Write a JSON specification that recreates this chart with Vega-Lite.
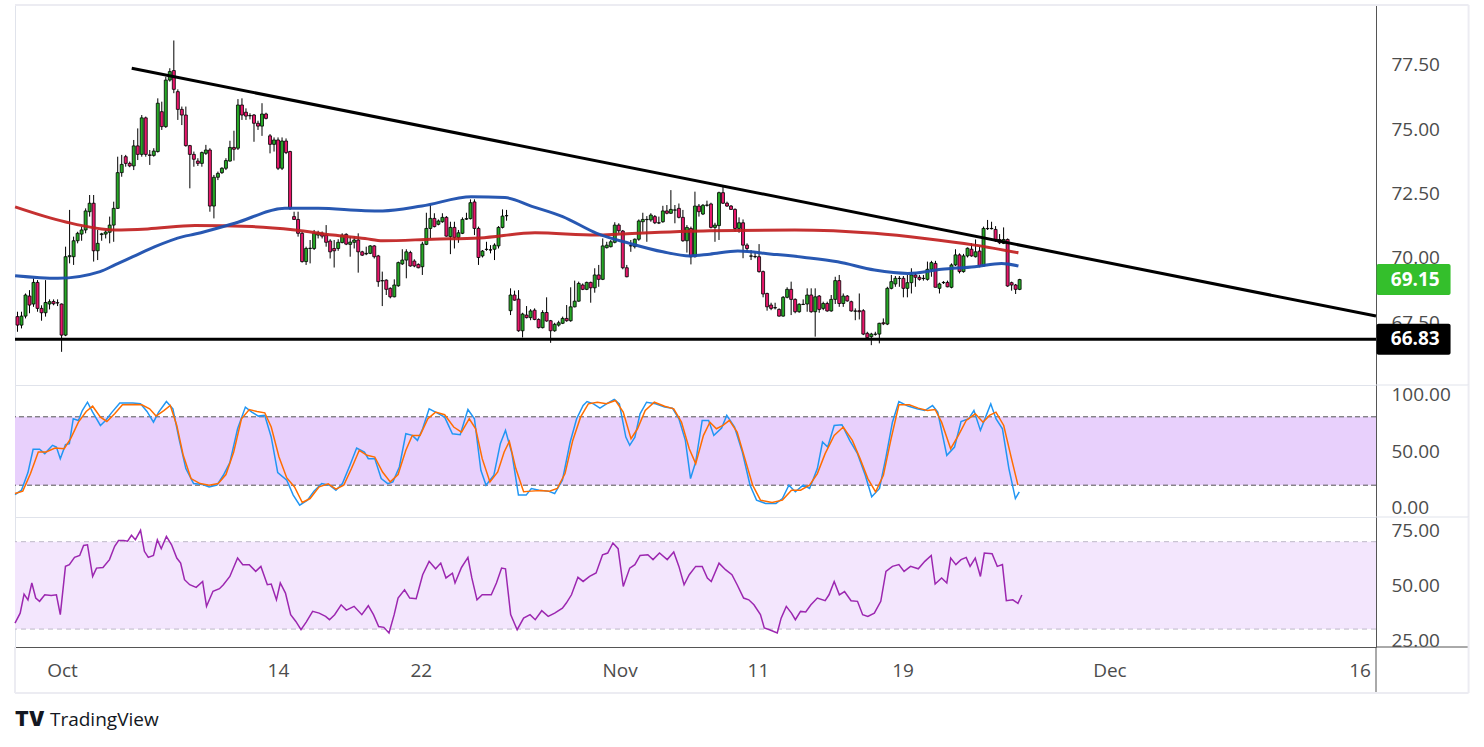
{
  "$schema": "https://vega.github.io/schema/vega-lite/v6.json",
  "background": "white",
  "padding": {"left": 8, "top": 3, "right": 0, "bottom": 0},
  "bounds": "flush",
  "spacing": 0,
  "config": {
    "view": {"stroke": "#e0e3eb", "strokeWidth": 1},
    "scale": {"continuousPadding": 0},
    "axis": {
      "labelFont": "Open Sans", "labelFontSize": 19, "labelColor": "#4c4c4c",
      "ticks": false, "grid": false, "domainColor": "#555555", "labelPadding": 15,
      "labelOverlap": false, "labelFlush": false, "labelBound": false, "title": null, "zindex": 0
    }
  },
  "datasets": {
    "candles": [
      {"i":0,"o":67.71,"h":67.90,"l":67.12,"c":67.38},{"i":1,"o":67.38,"h":67.90,"l":67.25,"c":67.73},
      {"i":2,"o":67.73,"h":68.61,"l":67.64,"c":68.55},{"i":3,"o":68.51,"h":68.74,"l":67.84,"c":68.16},
      {"i":4,"o":68.20,"h":69.20,"l":68.09,"c":69.04},{"i":5,"o":69.04,"h":69.13,"l":67.90,"c":68.03},
      {"i":6,"o":68.03,"h":68.15,"l":67.55,"c":67.86},{"i":7,"o":67.86,"h":69.13,"l":67.71,"c":68.26},
      {"i":8,"o":68.20,"h":68.38,"l":67.99,"c":68.29},{"i":9,"o":68.30,"h":68.38,"l":68.15,"c":68.21},
      {"i":10,"o":68.25,"h":68.38,"l":68.12,"c":68.24},{"i":11,"o":68.20,"h":68.22,"l":66.34,"c":66.99},
      {"i":12,"o":66.99,"h":70.43,"l":66.95,"c":70.04},{"i":13,"o":70.04,"h":71.86,"l":69.78,"c":70.08},
      {"i":14,"o":70.04,"h":70.82,"l":69.72,"c":70.66},{"i":15,"o":70.66,"h":71.01,"l":70.56,"c":70.95},
      {"i":16,"o":70.92,"h":71.21,"l":70.66,"c":71.08},{"i":17,"o":71.08,"h":71.92,"l":70.95,"c":71.82},
      {"i":18,"o":71.79,"h":72.44,"l":71.60,"c":72.12},{"i":19,"o":72.12,"h":72.44,"l":69.85,"c":70.27},
      {"i":20,"o":70.27,"h":71.08,"l":69.91,"c":70.56},{"i":21,"o":70.90,"h":70.97,"l":70.66,"c":70.93},
      {"i":22,"o":70.92,"h":71.08,"l":70.75,"c":71.00},{"i":23,"o":70.99,"h":71.60,"l":70.56,"c":71.27},
      {"i":24,"o":71.27,"h":72.18,"l":70.62,"c":71.92},{"i":25,"o":71.92,"h":73.93,"l":71.90,"c":73.31},
      {"i":26,"o":73.31,"h":74.00,"l":73.15,"c":73.63},{"i":27,"o":73.93,"h":74.00,"l":73.54,"c":73.67},
      {"i":28,"o":73.67,"h":73.74,"l":73.52,"c":73.57},{"i":29,"o":73.57,"h":74.58,"l":73.41,"c":74.35},
      {"i":30,"o":74.35,"h":75.03,"l":73.80,"c":74.02},{"i":31,"o":74.02,"h":75.55,"l":73.93,"c":75.44},
      {"i":32,"o":75.44,"h":75.49,"l":73.93,"c":74.02},{"i":33,"o":74.00,"h":74.19,"l":73.61,"c":73.98},
      {"i":34,"o":73.98,"h":74.26,"l":73.93,"c":74.15},{"i":35,"o":74.13,"h":76.20,"l":74.09,"c":76.01},
      {"i":36,"o":75.68,"h":76.07,"l":74.97,"c":75.10},{"i":37,"o":75.10,"h":77.04,"l":75.05,"c":76.91},
      {"i":38,"o":76.91,"h":77.37,"l":76.85,"c":77.24},{"i":39,"o":77.28,"h":78.45,"l":76.40,"c":76.55},
      {"i":40,"o":76.46,"h":76.55,"l":75.36,"c":75.77},{"i":41,"o":75.77,"h":75.88,"l":75.16,"c":75.55},
      {"i":42,"o":75.55,"h":75.88,"l":74.32,"c":74.36},{"i":43,"o":74.36,"h":74.39,"l":72.70,"c":74.02},
      {"i":44,"o":74.02,"h":74.13,"l":73.54,"c":73.83},{"i":45,"o":73.76,"h":73.87,"l":73.57,"c":73.67},
      {"i":46,"o":73.67,"h":74.13,"l":73.54,"c":74.09},{"i":47,"o":74.06,"h":74.39,"l":74.00,"c":74.19},
      {"i":48,"o":74.19,"h":74.26,"l":71.79,"c":72.01},{"i":49,"o":72.01,"h":73.22,"l":71.53,"c":73.13},
      {"i":50,"o":73.13,"h":73.35,"l":73.02,"c":73.28},{"i":51,"o":73.31,"h":73.52,"l":73.26,"c":73.48},
      {"i":52,"o":73.48,"h":73.87,"l":73.41,"c":73.78},{"i":53,"o":73.76,"h":74.55,"l":73.74,"c":74.29},
      {"i":54,"o":74.29,"h":74.94,"l":73.78,"c":74.22},{"i":55,"o":74.26,"h":76.17,"l":74.19,"c":75.94},
      {"i":56,"o":75.94,"h":76.20,"l":75.36,"c":75.55},{"i":57,"o":75.66,"h":75.81,"l":75.36,"c":75.51},
      {"i":58,"o":75.52,"h":75.62,"l":75.38,"c":75.53},{"i":59,"o":75.55,"h":75.59,"l":74.51,"c":75.23},
      {"i":60,"o":75.23,"h":75.33,"l":74.97,"c":75.12},{"i":61,"o":75.12,"h":76.01,"l":74.74,"c":75.59},
      {"i":62,"o":75.59,"h":75.64,"l":75.38,"c":75.42},{"i":63,"o":74.74,"h":74.81,"l":74.06,"c":74.41},
      {"i":64,"o":74.41,"h":74.68,"l":74.13,"c":74.58},{"i":65,"o":74.58,"h":74.68,"l":73.41,"c":73.48},
      {"i":66,"o":73.48,"h":74.68,"l":73.41,"c":74.54},{"i":67,"o":74.54,"h":74.64,"l":74.03,"c":74.09},
      {"i":68,"o":74.13,"h":74.16,"l":71.86,"c":71.92},{"i":69,"o":71.60,"h":71.79,"l":71.47,"c":71.49},
      {"i":70,"o":71.49,"h":71.79,"l":70.82,"c":70.95},{"i":71,"o":70.95,"h":71.02,"l":69.81,"c":69.85},
      {"i":72,"o":69.85,"h":70.43,"l":69.72,"c":70.36},{"i":73,"o":70.36,"h":70.69,"l":69.78,"c":70.37},
      {"i":74,"o":70.36,"h":71.08,"l":70.30,"c":70.95},{"i":75,"o":70.88,"h":71.05,"l":70.75,"c":70.97},
      {"i":76,"o":70.95,"h":71.02,"l":70.75,"c":70.84},{"i":77,"o":70.88,"h":71.27,"l":70.43,"c":70.60},
      {"i":78,"o":70.65,"h":70.72,"l":69.97,"c":70.23},{"i":79,"o":70.36,"h":70.69,"l":69.62,"c":70.27},
      {"i":80,"o":70.36,"h":70.72,"l":70.27,"c":70.60},{"i":81,"o":70.59,"h":70.95,"l":70.56,"c":70.88},
      {"i":82,"o":70.91,"h":70.95,"l":70.49,"c":70.53},{"i":83,"o":70.52,"h":70.82,"l":70.04,"c":70.61},
      {"i":84,"o":70.60,"h":70.84,"l":70.36,"c":70.69},{"i":85,"o":70.69,"h":70.95,"l":69.42,"c":70.23},
      {"i":86,"o":70.23,"h":70.27,"l":70.07,"c":70.10},{"i":87,"o":70.15,"h":70.43,"l":70.10,"c":70.17},
      {"i":88,"o":70.17,"h":70.49,"l":70.14,"c":70.46},{"i":89,"o":70.46,"h":70.49,"l":69.97,"c":70.04},
      {"i":90,"o":70.07,"h":70.11,"l":68.87,"c":69.07},{"i":91,"o":69.10,"h":69.46,"l":68.12,"c":69.11},
      {"i":92,"o":69.13,"h":69.16,"l":68.55,"c":68.77},{"i":93,"o":68.81,"h":68.85,"l":68.42,"c":68.48},
      {"i":94,"o":68.48,"h":69.16,"l":68.46,"c":68.94},{"i":95,"o":68.91,"h":69.85,"l":68.87,"c":69.81},
      {"i":96,"o":69.76,"h":70.33,"l":69.72,"c":69.91},{"i":97,"o":69.91,"h":70.33,"l":69.20,"c":70.23},
      {"i":98,"o":70.20,"h":70.27,"l":69.65,"c":69.68},{"i":99,"o":69.87,"h":69.94,"l":69.63,"c":69.68},
      {"i":100,"o":69.74,"h":69.78,"l":69.59,"c":69.61},{"i":101,"o":69.65,"h":70.62,"l":69.33,"c":70.53},
      {"i":102,"o":70.52,"h":71.75,"l":70.49,"c":71.14},{"i":103,"o":71.14,"h":72.05,"l":70.75,"c":71.53},
      {"i":104,"o":71.53,"h":71.73,"l":71.18,"c":71.21},{"i":105,"o":71.30,"h":71.49,"l":71.26,"c":71.43},
      {"i":106,"o":71.40,"h":71.73,"l":71.36,"c":71.57},{"i":107,"o":71.57,"h":71.62,"l":70.82,"c":70.84},
      {"i":108,"o":70.82,"h":71.40,"l":70.14,"c":71.18},{"i":109,"o":71.18,"h":71.40,"l":70.36,"c":70.79},
      {"i":110,"o":70.79,"h":71.08,"l":70.58,"c":70.97},{"i":111,"o":70.95,"h":71.57,"l":70.92,"c":71.49},
      {"i":112,"o":71.50,"h":71.75,"l":71.47,"c":71.52},{"i":113,"o":71.52,"h":72.27,"l":71.49,"c":72.14},
      {"i":114,"o":72.17,"h":72.27,"l":70.88,"c":71.14},{"i":115,"o":71.14,"h":71.21,"l":69.72,"c":70.01},
      {"i":116,"o":70.07,"h":70.30,"l":70.01,"c":70.26},{"i":117,"o":70.32,"h":70.62,"l":70.27,"c":70.33},
      {"i":118,"o":70.31,"h":70.49,"l":70.17,"c":70.30},{"i":119,"o":70.33,"h":70.56,"l":69.91,"c":70.49},
      {"i":120,"o":70.46,"h":71.23,"l":70.36,"c":71.18},{"i":121,"o":71.18,"h":71.88,"l":71.14,"c":71.62},
      {"i":122,"o":71.63,"h":71.86,"l":71.44,"c":71.64},{"i":123,"o":67.94,"h":68.81,"l":67.77,"c":68.55},
      {"i":124,"o":68.55,"h":68.72,"l":68.33,"c":68.35},{"i":125,"o":68.39,"h":68.74,"l":67.12,"c":67.16},
      {"i":126,"o":67.16,"h":67.86,"l":66.90,"c":67.81},{"i":127,"o":67.77,"h":68.12,"l":67.64,"c":67.67},
      {"i":128,"o":67.67,"h":68.00,"l":67.57,"c":67.93},{"i":129,"o":67.96,"h":68.03,"l":67.57,"c":67.60},
      {"i":130,"o":67.60,"h":67.64,"l":67.25,"c":67.28},{"i":131,"o":67.28,"h":67.96,"l":67.25,"c":67.87},
      {"i":132,"o":67.87,"h":68.46,"l":67.51,"c":67.54},{"i":133,"o":67.55,"h":67.58,"l":66.69,"c":67.16},
      {"i":134,"o":67.16,"h":67.47,"l":67.12,"c":67.41},{"i":135,"o":67.38,"h":67.55,"l":67.32,"c":67.47},
      {"i":136,"o":67.45,"h":67.71,"l":67.42,"c":67.64},{"i":137,"o":67.64,"h":68.16,"l":67.51,"c":67.55},
      {"i":138,"o":67.55,"h":68.85,"l":67.51,"c":68.09},{"i":139,"o":68.09,"h":69.11,"l":68.07,"c":68.31},
      {"i":140,"o":68.31,"h":69.07,"l":68.29,"c":69.00},{"i":141,"o":68.94,"h":69.00,"l":68.74,"c":68.77},
      {"i":142,"o":68.77,"h":69.07,"l":68.74,"c":69.04},{"i":143,"o":69.04,"h":69.07,"l":68.25,"c":68.83},
      {"i":144,"o":68.83,"h":69.59,"l":68.64,"c":69.33},{"i":145,"o":69.33,"h":69.72,"l":68.87,"c":69.16},
      {"i":146,"o":69.16,"h":70.75,"l":69.13,"c":70.46},{"i":147,"o":70.39,"h":70.62,"l":70.36,"c":70.49},
      {"i":148,"o":70.43,"h":70.69,"l":70.40,"c":70.62},{"i":149,"o":70.60,"h":71.38,"l":70.56,"c":71.27},
      {"i":150,"o":71.27,"h":71.34,"l":70.95,"c":71.05},{"i":151,"o":71.04,"h":71.08,"l":69.55,"c":69.61},
      {"i":152,"o":69.61,"h":69.72,"l":69.24,"c":69.26},{"i":153,"o":70.46,"h":70.69,"l":70.23,"c":70.47},
      {"i":154,"o":70.43,"h":70.75,"l":70.36,"c":70.72},{"i":155,"o":70.72,"h":71.49,"l":70.66,"c":71.43},
      {"i":156,"o":71.40,"h":71.75,"l":71.01,"c":71.49},{"i":157,"o":71.48,"h":71.62,"l":70.62,"c":71.49},
      {"i":158,"o":71.47,"h":71.73,"l":71.40,"c":71.66},{"i":159,"o":71.60,"h":71.66,"l":71.31,"c":71.36},
      {"i":160,"o":71.35,"h":71.60,"l":71.31,"c":71.36},{"i":161,"o":71.40,"h":72.02,"l":71.36,"c":71.82},
      {"i":162,"o":71.82,"h":72.05,"l":71.69,"c":71.73},{"i":163,"o":71.73,"h":72.63,"l":71.70,"c":71.88},
      {"i":164,"o":71.85,"h":72.05,"l":71.34,"c":71.86},{"i":165,"o":71.92,"h":72.11,"l":71.53,"c":71.57},
      {"i":166,"o":71.57,"h":71.86,"l":70.62,"c":70.66},{"i":167,"o":70.66,"h":71.27,"l":70.20,"c":71.18},
      {"i":168,"o":71.14,"h":71.21,"l":69.74,"c":70.04},{"i":169,"o":70.04,"h":72.57,"l":70.01,"c":72.01},
      {"i":170,"o":72.01,"h":72.09,"l":71.60,"c":71.79},{"i":171,"o":71.70,"h":72.09,"l":71.66,"c":72.04},
      {"i":172,"o":72.04,"h":72.22,"l":71.99,"c":72.05},{"i":173,"o":72.09,"h":72.14,"l":71.14,"c":71.18},
      {"i":174,"o":71.18,"h":71.36,"l":70.62,"c":71.27},{"i":175,"o":71.25,"h":72.57,"l":70.69,"c":72.53},
      {"i":176,"o":72.53,"h":72.79,"l":72.09,"c":72.12},{"i":177,"o":72.12,"h":72.18,"l":71.98,"c":72.01},
      {"i":178,"o":72.01,"h":72.05,"l":71.86,"c":71.88},{"i":179,"o":71.88,"h":71.92,"l":71.01,"c":71.14},
      {"i":180,"o":71.14,"h":71.57,"l":70.97,"c":71.36},{"i":181,"o":71.36,"h":71.49,"l":69.98,"c":70.49},
      {"i":182,"o":70.49,"h":70.56,"l":70.23,"c":70.36},{"i":183,"o":70.06,"h":70.30,"l":69.91,"c":70.07},
      {"i":184,"o":70.05,"h":70.23,"l":69.98,"c":70.04},{"i":185,"o":70.04,"h":70.53,"l":69.42,"c":69.46},
      {"i":186,"o":69.46,"h":69.50,"l":68.46,"c":68.59},{"i":187,"o":68.61,"h":68.64,"l":67.94,"c":68.09},
      {"i":188,"o":68.16,"h":68.25,"l":67.96,"c":68.03},{"i":189,"o":68.05,"h":68.25,"l":67.99,"c":68.06},
      {"i":190,"o":67.99,"h":68.03,"l":67.71,"c":67.73},{"i":191,"o":67.73,"h":68.51,"l":67.71,"c":68.46},
      {"i":192,"o":68.46,"h":68.85,"l":68.42,"c":68.77},{"i":193,"o":68.77,"h":69.07,"l":67.77,"c":68.38},
      {"i":194,"o":68.38,"h":68.42,"l":67.84,"c":67.90},{"i":195,"o":67.90,"h":68.23,"l":67.86,"c":68.19},
      {"i":196,"o":68.18,"h":68.38,"l":68.16,"c":68.19},{"i":197,"o":68.20,"h":68.81,"l":67.90,"c":68.55},
      {"i":198,"o":68.55,"h":68.81,"l":67.86,"c":67.90},{"i":199,"o":67.90,"h":68.81,"l":66.93,"c":68.48},
      {"i":200,"o":68.51,"h":68.55,"l":67.86,"c":67.99},{"i":201,"o":68.03,"h":68.29,"l":67.96,"c":68.22},
      {"i":202,"o":68.22,"h":68.29,"l":67.90,"c":67.93},{"i":203,"o":67.93,"h":68.55,"l":67.90,"c":68.38},
      {"i":204,"o":68.38,"h":69.26,"l":68.20,"c":69.11},{"i":205,"o":69.11,"h":69.33,"l":68.09,"c":68.22},
      {"i":206,"o":68.22,"h":68.61,"l":68.09,"c":68.51},{"i":207,"o":68.51,"h":68.55,"l":68.29,"c":68.32},
      {"i":208,"o":68.29,"h":68.33,"l":67.90,"c":67.93},{"i":209,"o":67.92,"h":68.03,"l":67.57,"c":67.93},
      {"i":210,"o":67.94,"h":68.61,"l":67.60,"c":67.90},{"i":211,"o":67.94,"h":68.00,"l":66.99,"c":67.03},
      {"i":212,"o":67.06,"h":67.12,"l":66.86,"c":66.89},{"i":213,"o":66.93,"h":67.08,"l":66.60,"c":67.03},
      {"i":214,"o":67.02,"h":67.12,"l":66.97,"c":67.03},{"i":215,"o":67.03,"h":67.47,"l":66.67,"c":67.45},
      {"i":216,"o":67.47,"h":67.64,"l":67.38,"c":67.43},{"i":217,"o":67.42,"h":68.87,"l":67.38,"c":68.81},
      {"i":218,"o":68.81,"h":69.33,"l":68.77,"c":69.07},{"i":219,"o":68.98,"h":69.29,"l":68.87,"c":69.20},
      {"i":220,"o":69.19,"h":69.29,"l":68.87,"c":69.20},{"i":221,"o":69.20,"h":69.29,"l":68.46,"c":68.81},
      {"i":222,"o":68.81,"h":69.33,"l":68.46,"c":69.03},{"i":223,"o":69.03,"h":69.59,"l":68.61,"c":69.33},
      {"i":224,"o":69.33,"h":69.42,"l":68.87,"c":69.24},{"i":225,"o":69.24,"h":69.33,"l":69.11,"c":69.16},
      {"i":226,"o":69.19,"h":69.33,"l":69.11,"c":69.20},{"i":227,"o":69.16,"h":69.85,"l":69.11,"c":69.55},
      {"i":228,"o":69.55,"h":69.88,"l":69.26,"c":69.81},{"i":229,"o":69.78,"h":69.88,"l":68.85,"c":68.85},
      {"i":230,"o":68.81,"h":69.03,"l":68.61,"c":68.98},{"i":231,"o":69.03,"h":69.09,"l":68.98,"c":69.04},
      {"i":232,"o":69.04,"h":69.11,"l":68.85,"c":68.87},{"i":233,"o":68.85,"h":69.78,"l":68.81,"c":69.72},
      {"i":234,"o":69.72,"h":70.33,"l":69.68,"c":70.11},{"i":235,"o":70.11,"h":70.17,"l":69.39,"c":69.46},
      {"i":236,"o":69.46,"h":70.15,"l":69.42,"c":70.07},{"i":237,"o":70.07,"h":70.40,"l":70.01,"c":70.37},
      {"i":238,"o":70.33,"h":70.56,"l":70.04,"c":70.07},{"i":239,"o":70.04,"h":70.71,"l":70.01,"c":70.23},
      {"i":240,"o":70.26,"h":70.43,"l":69.63,"c":69.68},{"i":241,"o":69.68,"h":71.21,"l":69.65,"c":71.14},
      {"i":242,"o":71.13,"h":71.47,"l":71.08,"c":71.14},{"i":243,"o":71.13,"h":71.40,"l":71.10,"c":71.14},
      {"i":244,"o":71.10,"h":71.23,"l":70.62,"c":70.66},{"i":245,"o":70.71,"h":70.92,"l":70.53,"c":70.58},
      {"i":246,"o":70.56,"h":71.18,"l":70.53,"c":70.71},{"i":247,"o":70.71,"h":70.75,"l":68.87,"c":68.90},
      {"i":248,"o":69.03,"h":69.07,"l":68.72,"c":68.94},{"i":249,"o":68.94,"h":68.98,"l":68.59,"c":68.77},
      {"i":250,"o":68.77,"h":69.18,"l":68.74,"c":69.15}
    ],
    "maFast": [
      {"i":-0.6,"v":69.30},{"i":10.1,"v":69.20},{"i":20.6,"v":69.46},{"i":24.3,"v":69.72},{"i":28.8,"v":70.04},
      {"i":34.3,"v":70.43},{"i":41.3,"v":70.82},{"i":44.3,"v":70.92},{"i":54.2,"v":71.34},{"i":66.7,"v":71.92},
      {"i":75.0,"v":71.92},{"i":86.7,"v":71.83},{"i":91.1,"v":71.82},{"i":100.9,"v":72.01},{"i":113.3,"v":72.37},
      {"i":121.6,"v":72.34},{"i":128.3,"v":72.00},{"i":136.0,"v":71.60},{"i":144.5,"v":70.95},{"i":152.7,"v":70.56},
      {"i":161.0,"v":70.23},{"i":167.7,"v":70.07},{"i":172.7,"v":70.14},{"i":179.7,"v":70.26},{"i":188.2,"v":70.14},
      {"i":196.4,"v":70.01},{"i":204.6,"v":69.84},{"i":213.8,"v":69.52},{"i":222.1,"v":69.39},{"i":230.5,"v":69.55},
      {"i":238.8,"v":69.65},{"i":245.5,"v":69.78},{"i":249.7,"v":69.68}
    ],
    "maSlow": [
      {"i":-0.6,"v":71.98},{"i":11.8,"v":71.40},{"i":24.3,"v":71.08},{"i":32.5,"v":71.12},{"i":44.3,"v":71.25},
      {"i":58.5,"v":71.21},{"i":69.2,"v":71.08},{"i":78.7,"v":70.88},{"i":86.7,"v":70.75},{"i":91.1,"v":70.66},
      {"i":103.6,"v":70.72},{"i":115.3,"v":70.77},{"i":129.1,"v":70.97},{"i":144.5,"v":70.88},{"i":150.3,"v":70.92},
      {"i":172.7,"v":71.05},{"i":193.9,"v":71.08},{"i":213.8,"v":70.95},{"i":226.3,"v":70.75},{"i":238.8,"v":70.49},
      {"i":249.7,"v":70.19}
    ],
    "levels": [
      {"line":"trend","i":28.5,"v":77.37},{"line":"trend","i":338.9,"v":67.73},
      {"line":"support","i":-0.62,"v":66.83},{"line":"support","i":338.9,"v":66.83}
    ],
    "tags": [
      {"price":69.15,"label":"69.15","kind":"last"},
      {"price":66.83,"label":"66.83","kind":"level"}
    ],
    "stochBand": [{"lo":20,"hi":80}],
    "stochLevels": [{"v":20},{"v":80}],
    "stochK": [
      {"i":-0.62,"v":11.8},{"i":0.99,"v":15.6},{"i":2.61,"v":31.1},{"i":3.90,"v":51.5},{"i":5.51,"v":51.5},
      {"i":6.81,"v":47.7},{"i":8.74,"v":55.0},{"i":9.71,"v":53.5},{"i":10.68,"v":43.3},{"i":11.97,"v":55.5},
      {"i":12.94,"v":56.4},{"i":13.91,"v":78.3},{"i":15.20,"v":76.8},{"i":16.17,"v":85.5},{"i":17.46,"v":92.8},
      {"i":18.75,"v":84.1},{"i":20.69,"v":72.4},{"i":21.98,"v":76.8},{"i":23.59,"v":84.1},{"i":25.53,"v":92.2},
      {"i":28.76,"v":92.2},{"i":30.70,"v":91.4},{"i":32.31,"v":84.7},{"i":33.92,"v":75.3},{"i":35.22,"v":84.1},
      {"i":37.15,"v":93.4},{"i":38.77,"v":87.0},{"i":40.38,"v":59.3},{"i":42.00,"v":34.6},{"i":43.93,"v":21.4},
      {"i":46.19,"v":20.6},{"i":47.81,"v":18.5},{"i":49.74,"v":20.0},{"i":51.36,"v":28.7},{"i":52.97,"v":39.8},
      {"i":54.91,"v":69.5},{"i":56.85,"v":88.5},{"i":58.46,"v":84.1},{"i":60.07,"v":80.6},{"i":61.69,"v":81.2},
      {"i":63.30,"v":62.2},{"i":64.92,"v":31.1},{"i":67.18,"v":24.4},{"i":68.79,"v":11.3},{"i":70.40,"v":2.5},
      {"i":72.34,"v":6.9},{"i":73.96,"v":14.8},{"i":75.89,"v":21.4},{"i":77.83,"v":20.0},{"i":79.44,"v":15.6},
      {"i":81.06,"v":21.4},{"i":82.94,"v":37.5},{"i":84.61,"v":52.6},{"i":86.55,"v":49.1},{"i":87.51,"v":43.3},
      {"i":89.13,"v":43.3},{"i":90.74,"v":25.8},{"i":92.36,"v":21.4},{"i":93.65,"v":22.9},{"i":95.26,"v":36.0},
      {"i":96.88,"v":65.1},{"i":98.49,"v":63.7},{"i":99.78,"v":59.3},{"i":101.07,"v":69.5},{"i":102.69,"v":87.0},
      {"i":104.63,"v":83.5},{"i":106.56,"v":79.7},{"i":108.50,"v":65.1},{"i":110.44,"v":64.3},{"i":112.37,"v":86.4},
      {"i":113.99,"v":78.3},{"i":115.60,"v":33.1},{"i":116.89,"v":20.0},{"i":118.83,"v":28.7},{"i":120.45,"v":56.4},
      {"i":121.74,"v":68.1},{"i":123.35,"v":47.7},{"i":124.97,"v":11.3},{"i":126.90,"v":11.3},{"i":128.19,"v":17.1},
      {"i":130.13,"v":15.6},{"i":132.39,"v":14.8},{"i":134.01,"v":12.7},{"i":135.94,"v":24.4},{"i":137.88,"v":57.9},
      {"i":139.49,"v":78.3},{"i":141.11,"v":89.9},{"i":142.08,"v":93.4},{"i":143.69,"v":91.4},{"i":145.30,"v":87.6},
      {"i":146.92,"v":91.4},{"i":148.86,"v":95.2},{"i":150.15,"v":91.4},{"i":151.76,"v":62.2},{"i":152.73,"v":55.0},
      {"i":154.02,"v":62.2},{"i":155.31,"v":82.6},{"i":156.93,"v":92.8},{"i":159.19,"v":91.4},{"i":161.45,"v":88.5},
      {"i":163.38,"v":87.6},{"i":165.00,"v":78.3},{"i":166.61,"v":59.3},{"i":167.90,"v":25.8},{"i":169.19,"v":40.4},
      {"i":170.81,"v":76.8},{"i":172.42,"v":76.8},{"i":173.71,"v":63.7},{"i":175.65,"v":70.1},{"i":176.94,"v":81.2},
      {"i":178.88,"v":71.0},{"i":180.82,"v":49.1},{"i":182.75,"v":20.0},{"i":184.37,"v":6.9},{"i":186.63,"v":4.0},
      {"i":189.20,"v":4.0},{"i":190.82,"v":8.3},{"i":192.43,"v":20.0},{"i":194.05,"v":14.2},{"i":195.99,"v":20.0},
      {"i":197.60,"v":17.1},{"i":199.54,"v":34.6},{"i":200.83,"v":57.9},{"i":202.12,"v":53.5},{"i":203.74,"v":72.4},
      {"i":205.67,"v":73.0},{"i":207.61,"v":59.3},{"i":209.55,"v":47.7},{"i":211.49,"v":28.7},{"i":213.10,"v":9.8},
      {"i":215.04,"v":17.1},{"i":216.65,"v":44.7},{"i":218.27,"v":75.3},{"i":219.88,"v":93.4},{"i":222.14,"v":89.4},
      {"i":224.40,"v":87.0},{"i":226.34,"v":85.5},{"i":228.27,"v":89.9},{"i":229.57,"v":84.1},{"i":231.83,"v":46.2},
      {"i":233.76,"v":53.5},{"i":235.38,"v":75.9},{"i":237.31,"v":78.3},{"i":238.60,"v":85.5},{"i":240.22,"v":68.1},
      {"i":241.51,"v":79.7},{"i":242.80,"v":91.4},{"i":244.09,"v":78.3},{"i":245.71,"v":69.5},{"i":247.32,"v":34.6},
      {"i":248.94,"v":8.3},{"i":249.91,"v":14.2}
    ],
    "stochD": [
      {"i":-0.62,"v":12.7},{"i":1.32,"v":14.8},{"i":3.25,"v":30.2},{"i":5.19,"v":49.1},{"i":7.13,"v":49.1},
      {"i":9.39,"v":52.6},{"i":11.65,"v":52.0},{"i":13.26,"v":60.8},{"i":15.20,"v":75.3},{"i":17.14,"v":84.7},
      {"i":18.75,"v":89.3},{"i":20.69,"v":79.7},{"i":22.30,"v":75.9},{"i":24.24,"v":82.6},{"i":26.18,"v":90.5},
      {"i":28.76,"v":90.8},{"i":31.02,"v":90.5},{"i":32.96,"v":87.0},{"i":34.57,"v":80.6},{"i":36.51,"v":85.5},
      {"i":38.12,"v":89.9},{"i":39.74,"v":72.4},{"i":41.35,"v":46.2},{"i":43.29,"v":25.8},{"i":45.55,"v":21.4},
      {"i":47.81,"v":20.0},{"i":50.07,"v":21.4},{"i":52.00,"v":29.3},{"i":53.94,"v":49.1},{"i":55.88,"v":78.3},
      {"i":57.82,"v":86.4},{"i":59.75,"v":84.7},{"i":61.69,"v":83.5},{"i":63.30,"v":71.0},{"i":65.24,"v":44.7},
      {"i":67.18,"v":26.4},{"i":69.11,"v":18.5},{"i":71.05,"v":4.8},{"i":72.99,"v":8.3},{"i":75.25,"v":18.5},
      {"i":77.51,"v":21.2},{"i":79.44,"v":16.5},{"i":81.38,"v":20.0},{"i":83.32,"v":34.6},{"i":85.26,"v":50.6},
      {"i":87.19,"v":46.2},{"i":89.13,"v":44.7},{"i":91.07,"v":31.6},{"i":93.00,"v":22.9},{"i":94.94,"v":29.3},
      {"i":96.88,"v":50.6},{"i":98.49,"v":63.7},{"i":100.43,"v":63.7},{"i":102.37,"v":78.3},{"i":104.30,"v":84.1},
      {"i":106.56,"v":81.8},{"i":108.82,"v":71.0},{"i":110.76,"v":66.6},{"i":112.70,"v":78.3},{"i":114.31,"v":69.5},
      {"i":115.93,"v":43.3},{"i":117.86,"v":22.9},{"i":119.80,"v":31.6},{"i":121.41,"v":49.1},{"i":122.70,"v":58.4},
      {"i":124.32,"v":34.6},{"i":126.26,"v":14.2},{"i":128.19,"v":14.8},{"i":130.45,"v":15.3},{"i":132.71,"v":14.8},
      {"i":134.65,"v":17.1},{"i":136.59,"v":30.2},{"i":138.52,"v":59.3},{"i":140.46,"v":79.7},{"i":142.40,"v":91.4},
      {"i":144.66,"v":92.8},{"i":146.92,"v":91.4},{"i":149.18,"v":94.3},{"i":151.11,"v":84.1},{"i":153.05,"v":60.8},
      {"i":154.67,"v":69.5},{"i":156.60,"v":85.5},{"i":158.86,"v":92.8},{"i":161.45,"v":89.3},{"i":163.71,"v":87.0},
      {"i":165.64,"v":75.3},{"i":167.58,"v":52.0},{"i":169.19,"v":38.9},{"i":171.13,"v":63.7},{"i":172.74,"v":75.3},
      {"i":174.36,"v":69.5},{"i":175.98,"v":72.4},{"i":177.59,"v":76.8},{"i":179.53,"v":66.6},{"i":181.46,"v":43.3},
      {"i":183.40,"v":20.0},{"i":185.34,"v":6.9},{"i":188.24,"v":4.8},{"i":190.82,"v":6.9},{"i":193.08,"v":15.6},
      {"i":195.34,"v":15.6},{"i":197.60,"v":20.0},{"i":199.54,"v":30.2},{"i":201.48,"v":47.7},{"i":203.74,"v":63.7},
      {"i":206.00,"v":71.0},{"i":208.26,"v":59.3},{"i":210.19,"v":43.3},{"i":212.13,"v":25.8},{"i":214.07,"v":14.2},
      {"i":216.01,"v":28.7},{"i":217.94,"v":60.8},{"i":219.88,"v":90.5},{"i":222.46,"v":90.5},{"i":224.72,"v":87.6},
      {"i":226.98,"v":85.5},{"i":228.92,"v":86.4},{"i":230.53,"v":75.3},{"i":232.79,"v":52.0},{"i":234.73,"v":63.7},
      {"i":236.67,"v":76.8},{"i":238.93,"v":82.6},{"i":240.86,"v":75.3},{"i":242.48,"v":81.2},{"i":244.09,"v":84.1},
      {"i":246.03,"v":72.4},{"i":247.97,"v":43.3},{"i":249.58,"v":20.0}
    ],
    "rsiBand": [{"lo":30,"hi":70}],
    "rsiLevels": [{"v":30},{"v":70}],
    "rsi": [
      {"i":-0.62,"v":32.7},{"i":0.67,"v":37.3},{"i":1.64,"v":46.0},{"i":2.61,"v":43.4},{"i":3.58,"v":51.1},
      {"i":4.55,"v":44.2},{"i":5.51,"v":42.7},{"i":6.81,"v":45.7},{"i":8.42,"v":45.4},{"i":9.71,"v":45.7},
      {"i":10.68,"v":36.6},{"i":11.97,"v":58.7},{"i":12.94,"v":59.5},{"i":14.23,"v":62.8},{"i":15.52,"v":63.7},
      {"i":16.49,"v":68.3},{"i":17.46,"v":68.6},{"i":18.75,"v":54.1},{"i":19.72,"v":57.9},{"i":21.33,"v":58.2},
      {"i":22.95,"v":61.8},{"i":24.24,"v":67.9},{"i":25.21,"v":70.5},{"i":26.50,"v":70.5},{"i":27.47,"v":70.2},
      {"i":28.44,"v":72.9},{"i":29.41,"v":70.9},{"i":30.70,"v":75.2},{"i":31.66,"v":65.6},{"i":32.63,"v":62.8},
      {"i":33.92,"v":63.7},{"i":34.89,"v":70.9},{"i":35.86,"v":66.8},{"i":37.15,"v":72.4},{"i":38.44,"v":68.6},
      {"i":39.74,"v":62.5},{"i":40.70,"v":60.2},{"i":41.67,"v":52.6},{"i":42.96,"v":50.3},{"i":44.58,"v":49.1},
      {"i":46.19,"v":51.8},{"i":47.16,"v":40.4},{"i":48.77,"v":47.3},{"i":50.39,"v":48.5},{"i":51.36,"v":50.3},
      {"i":52.97,"v":54.1},{"i":54.91,"v":62.5},{"i":56.20,"v":59.5},{"i":57.82,"v":59.5},{"i":59.43,"v":56.4},
      {"i":60.72,"v":58.7},{"i":62.33,"v":50.3},{"i":63.30,"v":50.6},{"i":64.60,"v":43.4},{"i":65.56,"v":51.1},
      {"i":66.85,"v":46.5},{"i":68.15,"v":36.6},{"i":69.44,"v":33.5},{"i":70.73,"v":29.7},{"i":72.02,"v":33.2},
      {"i":73.63,"v":38.1},{"i":75.25,"v":37.3},{"i":76.86,"v":35.8},{"i":77.83,"v":34.3},{"i":79.12,"v":36.6},
      {"i":80.74,"v":41.1},{"i":82.03,"v":38.7},{"i":83.97,"v":40.4},{"i":85.90,"v":36.6},{"i":87.52,"v":40.7},
      {"i":88.81,"v":36.6},{"i":90.10,"v":31.2},{"i":91.39,"v":30.8},{"i":92.68,"v":28.2},{"i":93.97,"v":36.6},
      {"i":94.94,"v":44.2},{"i":96.56,"v":48.0},{"i":97.85,"v":44.2},{"i":99.46,"v":43.9},{"i":101.08,"v":54.9},
      {"i":102.69,"v":61.0},{"i":104.30,"v":57.6},{"i":105.59,"v":60.2},{"i":106.89,"v":53.4},{"i":108.50,"v":55.6},
      {"i":109.15,"v":51.1},{"i":110.76,"v":58.2},{"i":112.37,"v":62.8},{"i":113.34,"v":53.4},{"i":114.63,"v":43.4},
      {"i":115.93,"v":45.7},{"i":118.19,"v":45.7},{"i":119.48,"v":51.1},{"i":120.77,"v":57.9},{"i":121.74,"v":57.6},
      {"i":123.03,"v":36.6},{"i":124.65,"v":29.7},{"i":126.26,"v":35.0},{"i":127.87,"v":36.6},{"i":129.16,"v":34.3},
      {"i":130.78,"v":38.4},{"i":132.39,"v":35.8},{"i":134.01,"v":37.3},{"i":135.94,"v":39.6},{"i":136.91,"v":41.9},
      {"i":138.20,"v":45.7},{"i":139.81,"v":53.7},{"i":141.11,"v":51.8},{"i":142.72,"v":54.1},{"i":144.34,"v":55.7},
      {"i":145.95,"v":64.0},{"i":147.24,"v":64.8},{"i":148.54,"v":69.4},{"i":149.83,"v":66.8},{"i":151.12,"v":49.5},
      {"i":152.73,"v":57.9},{"i":154.02,"v":59.5},{"i":155.32,"v":63.7},{"i":157.25,"v":64.0},{"i":158.54,"v":61.8},
      {"i":160.16,"v":64.8},{"i":162.09,"v":61.8},{"i":163.71,"v":65.3},{"i":165.00,"v":58.7},{"i":166.29,"v":50.3},
      {"i":167.58,"v":54.9},{"i":169.19,"v":58.7},{"i":170.81,"v":58.7},{"i":172.10,"v":53.4},{"i":173.07,"v":51.8},
      {"i":175.01,"v":60.2},{"i":176.62,"v":57.2},{"i":178.23,"v":54.9},{"i":179.53,"v":50.3},{"i":181.14,"v":44.2},
      {"i":182.43,"v":43.4},{"i":183.72,"v":41.1},{"i":185.34,"v":36.6},{"i":186.30,"v":30.5},{"i":187.60,"v":29.7},
      {"i":189.53,"v":28.2},{"i":190.50,"v":35.0},{"i":191.79,"v":40.4},{"i":193.08,"v":37.3},{"i":194.05,"v":34.3},
      {"i":195.34,"v":38.1},{"i":196.64,"v":37.8},{"i":197.93,"v":41.1},{"i":199.54,"v":44.2},{"i":201.48,"v":43.0},
      {"i":202.45,"v":45.7},{"i":203.74,"v":51.8},{"i":205.03,"v":45.7},{"i":206.32,"v":47.2},{"i":207.94,"v":43.0},
      {"i":209.55,"v":42.7},{"i":210.84,"v":36.6},{"i":212.13,"v":35.8},{"i":213.75,"v":37.3},{"i":215.36,"v":42.7},
      {"i":216.65,"v":56.4},{"i":218.27,"v":58.7},{"i":219.88,"v":59.5},{"i":221.17,"v":56.4},{"i":222.79,"v":58.7},
      {"i":224.72,"v":57.6},{"i":226.34,"v":61.0},{"i":227.95,"v":63.7},{"i":228.92,"v":50.6},{"i":230.54,"v":53.4},
      {"i":231.83,"v":51.1},{"i":232.80,"v":62.5},{"i":234.09,"v":59.5},{"i":235.38,"v":61.8},{"i":236.67,"v":62.8},
      {"i":237.64,"v":58.7},{"i":238.93,"v":62.5},{"i":240.22,"v":54.1},{"i":241.19,"v":64.8},{"i":243.13,"v":64.5},
      {"i":244.42,"v":58.7},{"i":245.71,"v":59.5},{"i":246.68,"v":43.0},{"i":248.29,"v":43.4},{"i":249.58,"v":41.8},
      {"i":250.55,"v":45.6}
    ],
    "brand": [{"logo":"TV","name":"TradingView"}]
  },
  "vconcat": [
    {
      "width": 1361,
      "height": 380,
      "layer": [
        {
          "data": {"name": "candles"},
          "mark": {"type": "rule", "color": "#000000", "strokeWidth": 1},
          "encoding": {
            "x": {"field": "i", "type": "quantitative", "scale": {"domain": [-0.62, 338.9], "nice": false, "zero": false, "padding": 0}, "axis": null},
            "y": {"field": "l", "type": "quantitative", "scale": {"domain": [65.05, 79.83], "nice": false, "zero": false, "padding": 0},
                  "axis": {"orient": "right", "values": [67.5, 70, 72.5, 75, 77.5], "format": ".2f"}},
            "y2": {"field": "h"}
          }
        },
        {
          "data": {"name": "candles"},
          "mark": {"type": "bar", "orient": "vertical", "size": 3, "stroke": "#000000", "strokeWidth": 0.8},
          "encoding": {
            "x": {"field": "i", "type": "quantitative"},
            "y": {"field": "o", "type": "quantitative"},
            "y2": {"field": "c"},
            "fill": {"condition": {"test": "datum.c >= datum.o", "value": "#26a826"}, "value": "#e8176b"}
          }
        },
        {
          "data": {"name": "maSlow"},
          "mark": {"type": "line", "interpolate": "monotone", "strokeWidth": 3, "color": "#c01f1f", "opacity": 0.92},
          "encoding": {"x": {"field": "i", "type": "quantitative"}, "y": {"field": "v", "type": "quantitative"}}
        },
        {
          "data": {"name": "maFast"},
          "mark": {"type": "line", "interpolate": "monotone", "strokeWidth": 3, "color": "#1c4fae", "opacity": 0.95},
          "encoding": {"x": {"field": "i", "type": "quantitative"}, "y": {"field": "v", "type": "quantitative"}}
        },
        {
          "data": {"name": "levels"},
          "mark": {"type": "line", "strokeWidth": 3, "color": "#000000"},
          "encoding": {"x": {"field": "i", "type": "quantitative"}, "y": {"field": "v", "type": "quantitative"}, "detail": {"field": "line"}}
        },
        {
          "data": {"name": "tags"},
          "mark": {"type": "bar", "orient": "horizontal", "size": 31, "cornerRadius": 2},
          "encoding": {
            "x": {"datum": 339.04, "type": "quantitative"},
            "x2": {"datum": 357.5},
            "y": {"field": "price", "type": "quantitative"},
            "fill": {"condition": {"test": "datum.kind == 'last'", "value": "#34bf2c"}, "value": "#000000"}
          }
        },
        {
          "data": {"name": "tags"},
          "mark": {"type": "text", "align": "left", "baseline": "middle", "font": "Open Sans", "fontSize": 19, "fontWeight": "bold", "color": "#ffffff"},
          "encoding": {
            "x": {"datum": 342.6, "type": "quantitative"},
            "y": {"field": "price", "type": "quantitative"},
            "text": {"field": "label"}
          }
        },
        {
          "data": {"name": "brand"},
          "mark": {"type": "rule", "color": "#ececf2", "strokeWidth": 2},
          "encoding": {"x": {"datum": 362, "type": "quantitative"}, "y": {"datum": 79.83, "type": "quantitative"}, "y2": {"datum": 65.05}}
        },
        {
          "data": {"name": "brand"},
          "mark": {"type": "rule", "color": "#e0e3eb", "strokeWidth": 1},
          "encoding": {"x": {"datum": 338.9, "type": "quantitative"}, "x2": {"datum": 362}, "y": {"datum": 65.05, "type": "quantitative"}}
        },
        {
          "data": {"name": "brand"},
          "mark": {"type": "rule", "color": "#ececf2", "strokeWidth": 2},
          "encoding": {"x": {"datum": -0.62, "type": "quantitative"}, "x2": {"datum": 362}, "y": {"datum": 79.83, "type": "quantitative"}}
        }
      ]
    },
    {
      "width": 1361,
      "height": 132,
      "layer": [
        {
          "data": {"name": "stochBand"},
          "mark": {"type": "rect", "color": "#e8d0fc"},
          "encoding": {
            "x": {"datum": -0.62, "type": "quantitative", "scale": {"domain": [-0.62, 338.9], "nice": false, "zero": false, "padding": 0}, "axis": null},
            "x2": {"datum": 338.9},
            "y": {"field": "lo", "type": "quantitative", "scale": {"domain": [-7.9, 107.9], "nice": false, "zero": false, "padding": 0},
                  "axis": {"orient": "right", "values": [0, 50, 100], "format": ".2f"}},
            "y2": {"field": "hi"}
          }
        },
        {
          "data": {"name": "stochLevels"},
          "mark": {"type": "rule", "color": "#555555", "strokeWidth": 1, "strokeDash": [5, 3]},
          "encoding": {"y": {"field": "v", "type": "quantitative"}}
        },
        {
          "data": {"name": "stochK"},
          "mark": {"type": "line", "strokeWidth": 1.5, "color": "#2196f3"},
          "encoding": {"x": {"field": "i", "type": "quantitative"}, "y": {"field": "v", "type": "quantitative"}}
        },
        {
          "data": {"name": "stochD"},
          "mark": {"type": "line", "strokeWidth": 1.5, "color": "#ff6d00"},
          "encoding": {"x": {"field": "i", "type": "quantitative"}, "y": {"field": "v", "type": "quantitative"}}
        },
        {
          "data": {"name": "brand"},
          "mark": {"type": "rule", "color": "#ececf2", "strokeWidth": 2},
          "encoding": {"x": {"datum": 362, "type": "quantitative"}, "y": {"datum": 107.9, "type": "quantitative"}, "y2": {"datum": -7.9}}
        },
        {
          "data": {"name": "brand"},
          "mark": {"type": "rule", "color": "#e0e3eb", "strokeWidth": 1},
          "encoding": {"x": {"datum": 338.9, "type": "quantitative"}, "x2": {"datum": 362}, "y": {"datum": -7.9, "type": "quantitative"}}
        }
      ]
    },
    {
      "width": 1361,
      "height": 130,
      "layer": [
        {
          "data": {"name": "rsiBand"},
          "mark": {"type": "rect", "color": "#f3e6fd"},
          "encoding": {
            "x": {"datum": -0.62, "type": "quantitative", "scale": {"domain": [-0.62, 338.9], "nice": false, "zero": false, "padding": 0},
                  "axis": {"orient": "bottom", "values": [11.1, 64.96, 100.6, 150.2, 184.7, 220.8, 272.4, 334.8], "labelPadding": 14,
                           "labelExpr": "datum.value < 20 ? 'Oct' : datum.value < 80 ? '14' : datum.value < 120 ? '22' : datum.value < 170 ? 'Nov' : datum.value < 200 ? '11' : datum.value < 250 ? '19' : datum.value < 300 ? 'Dec' : '16'"}},
            "x2": {"datum": 338.9},
            "y": {"field": "lo", "type": "quantitative", "scale": {"domain": [21.8, 81.3], "nice": false, "zero": false, "padding": 0},
                  "axis": {"orient": "right", "values": [25, 50, 75], "format": ".2f"}},
            "y2": {"field": "hi"}
          }
        },
        {
          "data": {"name": "rsiLevels"},
          "mark": {"type": "rule", "color": "#bdb8c8", "strokeWidth": 1, "strokeDash": [5, 4]},
          "encoding": {"y": {"field": "v", "type": "quantitative"}}
        },
        {
          "data": {"name": "rsi"},
          "mark": {"type": "line", "strokeWidth": 1.5, "color": "#9c27b0"},
          "encoding": {"x": {"field": "i", "type": "quantitative"}, "y": {"field": "v", "type": "quantitative"}}
        },
        {
          "data": {"name": "brand"},
          "mark": {"type": "rule", "color": "#555555", "strokeWidth": 1},
          "encoding": {"x": {"datum": 338.9, "type": "quantitative"}, "x2": {"datum": 362}, "y": {"datum": 21.8, "type": "quantitative"}}
        },
        {
          "data": {"name": "brand"},
          "mark": {"type": "rule", "color": "#555555", "strokeWidth": 1},
          "encoding": {"x": {"datum": 338.9, "type": "quantitative"}, "y": {"datum": 21.8, "type": "quantitative"}, "y2": {"datum": 0.75}}
        },
        {
          "data": {"name": "brand"},
          "mark": {"type": "rule", "color": "#ececf2", "strokeWidth": 2},
          "encoding": {"x": {"datum": 362, "type": "quantitative"}, "y": {"datum": 81.3, "type": "quantitative"}, "y2": {"datum": 0.75}}
        },
        {
          "data": {"name": "brand"},
          "mark": {"type": "rule", "color": "#ececf2", "strokeWidth": 2},
          "encoding": {"x": {"datum": -0.62, "type": "quantitative"}, "y": {"datum": 21.8, "type": "quantitative"}, "y2": {"datum": 0.75}}
        },
        {
          "data": {"name": "brand"},
          "mark": {"type": "rule", "color": "#ececf2", "strokeWidth": 2},
          "encoding": {"x": {"datum": -0.62, "type": "quantitative"}, "x2": {"datum": 362}, "y": {"datum": 0.75, "type": "quantitative"}}
        },
        {
          "data": {"name": "brand"},
          "mark": {"type": "text", "align": "left", "baseline": "middle", "font": "Inter", "fontSize": 20, "fontWeight": 900, "color": "#131722"},
          "encoding": {"x": {"datum": -0.62, "type": "quantitative"}, "y": {"datum": -11.6, "type": "quantitative"}, "text": {"field": "logo"}}
        },
        {
          "data": {"name": "brand"},
          "mark": {"type": "text", "align": "left", "baseline": "middle", "font": "Open Sans", "fontSize": 19, "fontWeight": 500, "color": "#131722"},
          "encoding": {"x": {"datum": 8.1, "type": "quantitative"}, "y": {"datum": -11.6, "type": "quantitative"}, "text": {"field": "name"}}
        }
      ]
    }
  ]
}
